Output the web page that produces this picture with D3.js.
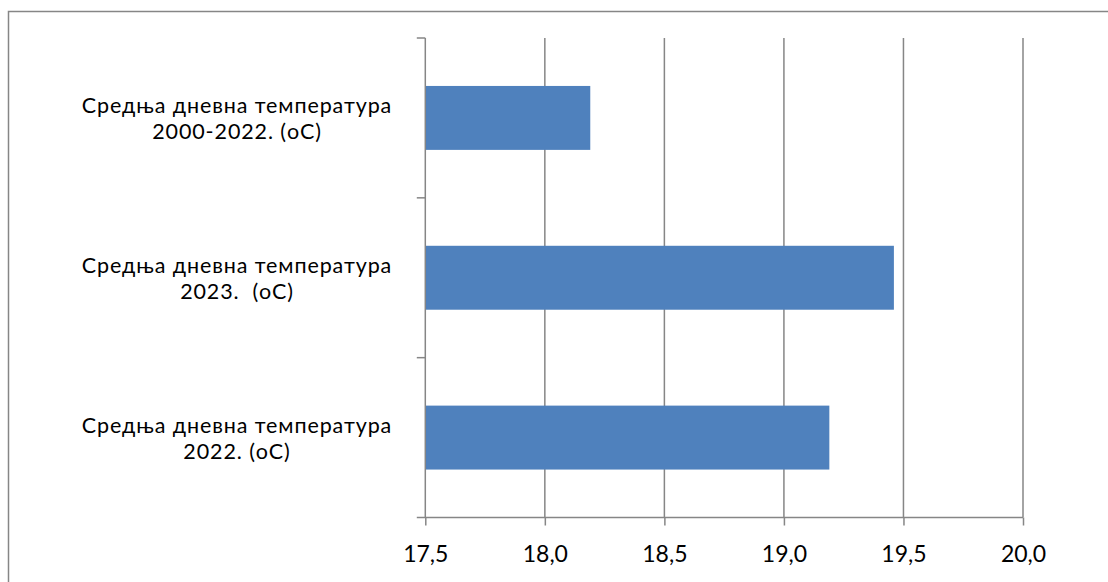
<!DOCTYPE html>
<html>
<head>
<meta charset="utf-8">
<script src="https://cdn.jsdelivr.net/npm/d3@7/dist/d3.min.js"></script>
<style>
  html, body { margin: 0; padding: 0; background: #fff; }
  svg { display: block; }
  text { font-family: Lato, "Open Sans", sans-serif; fill: #000; white-space: pre; }
</style>
</head>
<body>
<svg id="chart" width="1108" height="582"></svg>
<script>
// Category labels (line 1 / line 2), in series order (drawn bottom to top)
const labelLine1 = ["Средња дневна температура", "Средња дневна температура", "Средња дневна температура"];
const labelLine2 = ["2022. (oC)", "2023.  (oC)", "2000-2022. (oC)"];
const categories = ["2022", "2023", "2000-2022"];
const values = [19.19, 19.46, 18.19];
const xTicks = [17.5, 18.0, 18.5, 19.0, 19.5, 20.0];
const xDomain = [17.5, 20.0];

const svg = d3.select("#chart");
const plot = { left: 425.3, right: 1023, top: 38, bottom: 517.5 };
const gridColor = "#868686";
const labelSize = 21.5;
const tickSize = 23;

// Chart frame
svg.append("rect")
  .attr("x", 8.5).attr("y", 11.5)
  .attr("width", 1120).attr("height", 600)
  .attr("fill", "#fff")
  .attr("stroke", gridColor).attr("stroke-width", 1.5);

const x = d3.scaleLinear().domain(xDomain).range([plot.left, plot.right]);
const y = d3.scaleBand()
  .domain(categories.slice().reverse())
  .range([plot.top, plot.bottom])
  .paddingInner(0.6).paddingOuter(0.3);

// Vertical gridlines
svg.append("g").selectAll("line").data(xTicks.slice(1)).join("line")
  .attr("x1", d => x(d)).attr("x2", d => x(d))
  .attr("y1", plot.top).attr("y2", plot.bottom)
  .attr("stroke", gridColor).attr("stroke-width", 1.5);

// Bars
svg.append("g").selectAll("rect").data(categories).join("rect")
  .attr("x", x(xDomain[0]))
  .attr("y", d => y(d))
  .attr("width", (d, i) => x(values[i]) - x(xDomain[0]))
  .attr("height", y.bandwidth())
  .attr("fill", "#4f81bd");

// Bottom axis
const xAxis = d3.axisBottom(x).tickValues(xTicks).tickSize(8).tickSizeOuter(0)
  .tickFormat(d => d3.format(".1f")(d).replace(".", ","));
const gx = svg.append("g").attr("transform", `translate(0,${plot.bottom})`).call(xAxis);
gx.select(".domain").remove();
gx.append("line")
  .attr("x1", plot.left - 8.5).attr("x2", plot.right)
  .attr("stroke", gridColor).attr("stroke-width", 1.5);
gx.selectAll(".tick line").attr("stroke", gridColor).attr("stroke-width", 1.5);
gx.selectAll(".tick text")
  .attr("y", 0).attr("dy", 0)
  .attr("transform", "translate(0,44)")
  .style("font-size", tickSize + "px")
  .style("font-family", "Lato, sans-serif")
  .attr("fill", "#000");

// Left axis with category boundary ticks
const gy = svg.append("g");
gy.append("line")
  .attr("x1", plot.left).attr("x2", plot.left)
  .attr("y1", plot.top).attr("y2", plot.bottom)
  .attr("stroke", gridColor).attr("stroke-width", 1.5);
const step = y.step();
const bounds = d3.range(categories.length + 1).map(i => plot.top + i * step);
gy.selectAll("line.cat").data(bounds.slice(0, -1)).join("line").attr("class", "cat")
  .attr("x1", plot.left - 8.5).attr("x2", plot.left)
  .attr("y1", d => d).attr("y2", d => d)
  .attr("stroke", gridColor).attr("stroke-width", 1.5);

// Category labels
const labels = svg.append("g").selectAll("text").data(categories).join("text")
  .attr("x", 237)
  .attr("y", d => y(d) + y.bandwidth() / 2)
  .attr("text-anchor", "middle")
  .style("font-size", labelSize + "px")
  .style("letter-spacing", "0.9px");
labels.append("tspan").attr("x", 237).attr("dy", "-5").text((d, i) => labelLine1[i]);
labels.append("tspan").attr("x", 237).attr("dy", "26").text((d, i) => labelLine2[i]);
</script>
</body>
</html>
